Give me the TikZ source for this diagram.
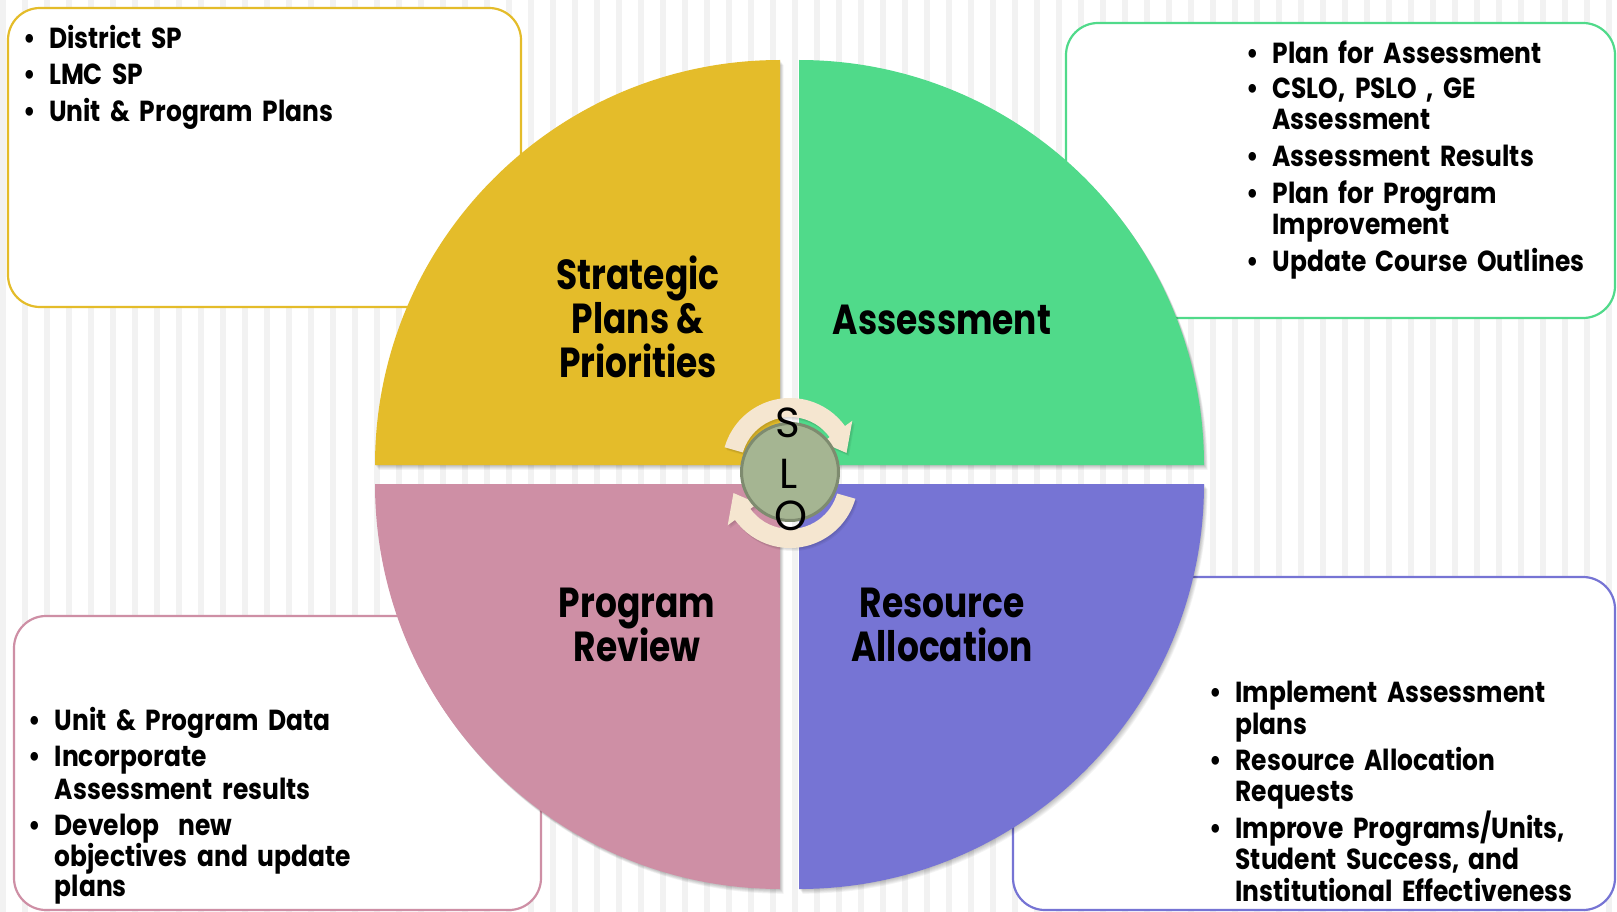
\documentclass[tikz,border=0pt]{standalone}
\usepackage{fontspec}
\setmainfont{Poppins}[FakeStretch=0.86]
\newfontfamily\quadfont{Poppins}[FakeStretch=0.82]
\newfontfamily\slofont{Poppins}
\newcommand\mywidespace{\spaceskip 9.5pt\relax}
\usetikzlibrary{calc}
\definecolor{cyel}{RGB}{228,188,42}
\definecolor{cgrn}{RGB}{80,218,138}
\definecolor{cpnk}{RGB}{206,143,165}
\definecolor{cpur}{RGB}{118,116,212}
\definecolor{cstripe}{RGB}{242,242,242}
\definecolor{ccirc}{RGB}{165,181,146}
\definecolor{ccircb}{RGB}{126,139,111}
\definecolor{carrow}{RGB}{245,230,208}
\tikzset{
  box/.style={line width=2.2pt, fill=white, rounded corners=32pt},
  item/.style={anchor=base west, inner sep=0pt, font=\fontsize{29}{31}\selectfont\bfseries\mywidespace},
  bul/.style={anchor=base, inner sep=0pt, font=\fontsize{29}{31}\selectfont\bfseries},
  qlabel/.style={anchor=base, inner sep=0pt, font=\fontsize{42}{44}\selectfont\quadfont\bfseries},
  slo/.style={anchor=base, inner sep=0pt, font=\fontsize{42}{44}\selectfont\slofont},
}
\begin{document}
\begin{tikzpicture}[x=1pt,y=-1pt]
\useasboundingbox (0,0) rectangle (1617,912);
\fill[white] (0,0) rectangle (1617,912);
\foreach \x in {0,22,...,1606} \fill[cstripe] (\x,0) rectangle (\x+6,912);
% boxes
\draw[box, draw=cyel] (8,8) rectangle (521,307);
\draw[box, draw=cgrn] (1066,23) rectangle (1615,318);
\draw[box, draw=cpnk] (14,616) rectangle (541,910);
\draw[box, draw=cpur] (1013,577) rectangle (1615,910);
% quadrants with soft shadow
\foreach \cx/\cy/\a/\col in {780/465/180/cyel, 799/465/270/cgrn, 799/484/0/cpur, 780/484/90/cpnk} {
  \foreach \d in {1,...,6} {
    \fill[black, opacity=0.045] ($(\cx,\cy)+(0.6*\d,0.8*\d)$) -- ++(\a:405) arc[start angle=\a, end angle=\a+90, radius=405] -- cycle;
  }
  \fill[\col] (\cx,\cy) -- ++(\a:405) arc[start angle=\a, end angle=\a+90, radius=405] -- cycle;
}
% circular arrows
\foreach \d in {1,2,3} {
\fill[black, opacity=0.05] ($(790,466)+(0.8*\d,\d)$) ++(-164:68) arc[start angle=-164, end angle=-36, radius=68]
  -- ++(-36:9) -- ($(790,466)+(0.8*\d,\d)+(-13:58)$) -- ($(790,466)+(0.8*\d,\d)+(-36:40)$)
  -- ($(790,466)+(0.8*\d,\d)+(-36:49)$) arc[start angle=-36, end angle=-164, radius=49] -- cycle;
\fill[black, opacity=0.05] ($(790,480)+(0.8*\d,\d)$) ++(16:68) arc[start angle=16, end angle=144, radius=68]
  -- ++(144:9) -- ($(790,480)+(0.8*\d,\d)+(167:58)$) -- ($(790,480)+(0.8*\d,\d)+(144:40)$)
  -- ($(790,480)+(0.8*\d,\d)+(144:49)$) arc[start angle=144, end angle=16, radius=49] -- cycle;
}
\fill[carrow] (790,466) ++(-164:68) arc[start angle=-164, end angle=-36, radius=68]
  -- ($(790,466)+(-36:77)$) -- ($(790,466)+(-13:58)$) -- ($(790,466)+(-36:40)$)
  -- ($(790,466)+(-36:49)$) arc[start angle=-36, end angle=-164, radius=49] -- cycle;
\fill[carrow] (790,480) ++(16:68) arc[start angle=16, end angle=144, radius=68]
  -- ($(790,480)+(144:77)$) -- ($(790,480)+(167:58)$) -- ($(790,480)+(144:40)$)
  -- ($(790,480)+(144:49)$) arc[start angle=144, end angle=16, radius=49] -- cycle;
% SLO circle
\node[circle, fill=ccirc, draw=ccircb, line width=3pt, minimum size=97pt, inner sep=0pt] (slo) at (790,472) {};
\node[slo] (sloS) at (788,437) {S};
\node[slo] (sloL) at (789,488) {L};
\node[slo] (sloO) at (791,530) {O};
% quadrant labels
\node[qlabel] (q1a) at (638,289) {Strategic};
\node[qlabel] (q1b) at (638,333) {Plans \&};
\node[qlabel] (q1c) at (638,377) {Priorities};
\node[qlabel] (q2a) at (942,334) {Assessment};
\node[qlabel] (q3a) at (637,617) {Program};
\node[qlabel] (q3b) at (637,661) {Review};
\node[qlabel] (q4a) at (942,617) {Resource};
\node[qlabel] (q4b) at (942,661) {Allocation};
% top-left list
\node[bul] (b11) at (30,49) {•};
\node[item] (t11) at (49,49) {District SP};
\node[bul] (b12) at (30,85) {•};
\node[item] (t12) at (49,85) {LMC SP};
\node[bul] (b13) at (30,121.7) {•};
\node[item] (t13) at (49,121.7) {Unit \& Program Plans};
% top-right list
\node[bul] (b21) at (1253,63.3) {•};
\node[item] (t21) at (1272.4,63.3) {Plan for Assessment};
\node[bul] (b22) at (1253,99) {•};
\node[item] (t22) at (1272.4,99) {CSLO, PSLO , GE};
\node[item] (t22b) at (1272.4,130) {Assessment};
\node[bul] (b23) at (1253,166.7) {•};
\node[item] (t23) at (1272.4,166.7) {Assessment Results};
\node[bul] (b24) at (1253,203.3) {•};
\node[item] (t24) at (1272.4,203.3) {Plan for Program};
\node[item] (t24b) at (1272.4,235) {Improvement};
\node[bul] (b25) at (1253,271.7) {•};
\node[item] (t25) at (1272.4,271.7) {Update Course Outlines};
% bottom-left list
\node[bul] (b31) at (34.6,730.7) {•};
\node[item] (t31) at (54.6,730.7) {Unit \& Program Data};
\node[bul] (b32) at (34.6,766.7) {•};
\node[item] (t32) at (54.6,766.7) {Incorporate};
\node[item] (t32b) at (54.6,799) {Assessment results};
\node[bul] (b33) at (34.6,835.7) {•};
\node[item] (t33) at (54.6,835.7) {Develop\ \ new};
\node[item] (t33b) at (54.6,866.7) {objectives and update};
\node[item] (t33c) at (54.6,896) {plans};
% bottom-right list
\node[bul] (b41) at (1215.7,702.7) {•};
\node[item] (t41) at (1235.4,702.7) {Implement Assessment};
\node[item] (t41b) at (1235.4,734) {plans};
\node[bul] (b42) at (1215.7,770.7) {•};
\node[item] (t42) at (1235.4,770.7) {Resource Allocation};
\node[item] (t42b) at (1235.4,801.7) {Requests};
\node[bul] (b43) at (1215.7,838.3) {•};
\node[item] (t43) at (1235.4,838.3) {Improve Programs/Units,};
\node[item] (t43b) at (1235.4,869.3) {Student Success, and};
\node[item] (t43c) at (1235.4,901.7) {Institutional Effectiveness};
\end{tikzpicture}
\end{document}
